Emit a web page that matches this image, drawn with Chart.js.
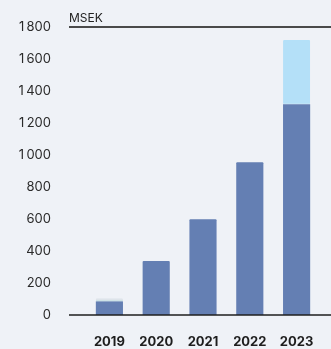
<!DOCTYPE html>
<html>
<head>
<meta charset="utf-8">
<script src="https://cdn.jsdelivr.net/npm/chart.js@4"></script>
<style>
  html, body { margin: 0; padding: 0; background: #eff2f7; }
  #wrap { width: 331px; height: 349px; position: relative; }
</style>
</head>
<body>
<div id="wrap"><canvas id="myChart"></canvas></div>
<script>
const years = ['2019', '2020', '2021', '2022', '2023'];
const baseValues = [85, 337, 598, 954, 1317];
const topValues = [19, 0, 0, 0, 402];
const yTicks = [0, 200, 400, 600, 800, 1000, 1200, 1400, 1600, 1800];
const unitLabel = 'MSEK';

const fmt = v => v >= 1000 ? String(v).replace(/(\d)(\d{3})$/, '$1\u2009$2') : String(v);

const linesPlugin = {
    id: 'lines',
    afterDatasetsDraw(chart) {
        const c = chart.ctx;
        const y = chart.scales.y;
        c.save();
        c.strokeStyle = '#4a4a4a';
        c.lineWidth = 2;
        c.beginPath();
        c.moveTo(69, y.getPixelForValue(1800));
        c.lineTo(chart.width, y.getPixelForValue(1800));
        c.stroke();
        c.strokeStyle = '#1e1e1e';
        c.lineWidth = 1.5;
        c.beginPath();
        c.moveTo(69, y.getPixelForValue(0));
        c.lineTo(chart.width, y.getPixelForValue(0));
        c.stroke();
        c.fillStyle = '#222';
        c.font = '12px Inter';
        c.textBaseline = 'alphabetic';
        c.fillText(unitLabel, 69, y.getPixelForValue(1800) - 5);
        c.restore();
    }
};

new Chart(document.getElementById('myChart'), {
    type: 'bar',
    data: {
        labels: years,
        datasets: [{
            data: baseValues,
            backgroundColor: '#647fb3',
            borderRadius: 1,
            categoryPercentage: 1,
            barPercentage: 0.58
        }, {
            data: topValues,
            backgroundColor: ['#dee4ea', '#b4e0f8', '#b4e0f8', '#b4e0f8', '#b4e0f8'],
            borderColor: ['#8ccfd0', '#b4e0f8', '#b4e0f8', '#b4e0f8', '#b4e0f8'],
            borderWidth: { bottom: 1, top: 0, left: 0, right: 0 },
            borderSkipped: false,
            borderRadius: 1,
            categoryPercentage: 1,
            barPercentage: 0.58
        }]
    },
    options: {
        responsive: true,
        maintainAspectRatio: false,
        animation: false,
        layout: { padding: { top: 27, right: 11, bottom: 0, left: 0 } },
        plugins: { legend: { display: false }, tooltip: { enabled: false } },
        scales: {
            x: {
                stacked: true,
                afterFit(scale) { scale.height = 34; scale.paddingLeft = 0; scale.paddingRight = 0; },
                grid: { display: false, drawTicks: false },
                border: { display: false },
                ticks: { color: '#1e1e1e', padding: 19, font: { family: 'Inter', size: 13, weight: 'bold' } }
            },
            y: {
                stacked: true,
                min: 0,
                max: 1800,
                afterFit(scale) { scale.width = 86; scale.paddingTop = 0; scale.paddingBottom = 0; },
                afterBuildTicks(scale) { scale.ticks = yTicks.map(v => ({ value: v })); },
                grid: { display: false, drawTicks: false },
                border: { display: false },
                ticks: {
                    color: '#2a2a2a',
                    padding: 35,
                    font: { family: 'Inter', size: 13 },
                    callback: v => fmt(v)
                }
            }
        }
    },
    plugins: [linesPlugin]
});
</script>
</body>
</html>
